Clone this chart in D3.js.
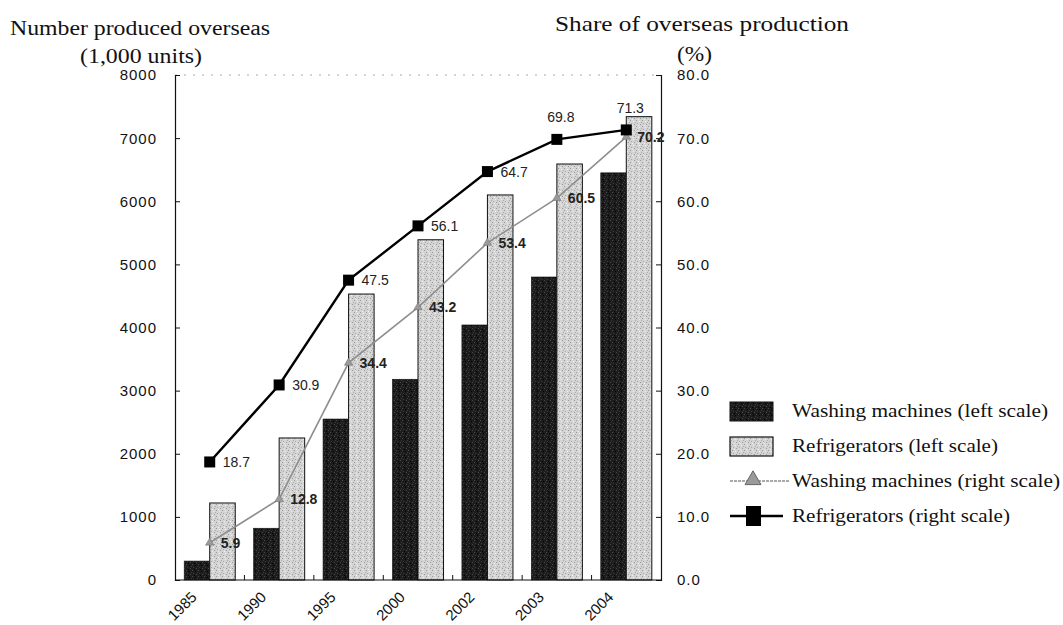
<!DOCTYPE html>
<html>
<head>
<meta charset="utf-8">
<script src="https://cdn.jsdelivr.net/npm/d3@7"></script>
<style>
  html, body { margin: 0; padding: 0; background: #fff; }
  svg { display: block; }
</style>
</head>
<body>
<svg id="chart" width="1063" height="625"></svg>
<script>
// ---------- data ----------
const years = ["1985", "1990", "1995", "2000", "2002", "2003", "2004"];
const washingUnits = [300, 820, 2550, 3180, 4040, 4800, 6450];      // 1,000 units (left scale)
const fridgeUnits = [1220, 2250, 4530, 5390, 6100, 6590, 7340];    // 1,000 units (left scale)
const washingShare = [5.9, 12.8, 34.4, 43.2, 53.4, 60.5, 70.2];      // % (right scale)
const fridgeShare = [18.7, 30.9, 47.5, 56.1, 64.7, 69.8, 71.3];      // % (right scale)
const leftTicks = [0, 1000, 2000, 3000, 4000, 5000, 6000, 7000, 8000];
const rightTicks = [0, 10, 20, 30, 40, 50, 60, 70, 80];
const legendLabels = [
  "Washing machines (left scale)",
  "Refrigerators (left scale)",
  "Washing machines (right scale)",
  "Refrigerators (right scale)"
];

// ---------- layout ----------
const svg = d3.select("#chart");
const L = 175, R = 661, T = 75, B = 580;
const sans = "'Liberation Sans', Arial, sans-serif";
const serif = "'Liberation Serif', 'Times New Roman', serif";

const x = d3.scaleBand().domain(years).range([L, R]).padding(0);
const xInner = d3.scaleBand().domain(["w", "r"]).range([0, x.bandwidth()]).paddingInner(0).paddingOuter(0.36);
const yL = d3.scaleLinear().domain([0, 8000]).range([B, T]);
const yR = d3.scaleLinear().domain([0, 80]).range([B, T]);

// ---------- patterns ----------
const defs = svg.append("defs");
function stipple(id, base, dots) {
  const p = defs.append("pattern").attr("id", id).attr("patternUnits", "userSpaceOnUse")
    .attr("width", 6).attr("height", 6);
  p.append("rect").attr("width", 6).attr("height", 6).attr("fill", base);
  const pts = [[0,0],[3,1],[1,3],[4,4],[2,5],[5,2]];
  pts.forEach(([a, b], i) => {
    p.append("rect").attr("x", a).attr("y", b).attr("width", 1).attr("height", 1)
      .attr("fill", dots[i % dots.length]);
  });
}
stipple("darkPat", "#1c1c1c", ["#4a4a4a", "#000", "#3a3a3a"]);
stipple("lightPat", "#d4d4d4", ["#9a9a9a", "#f0f0f0", "#aaaaaa"]);

// ---------- frame ----------
svg.append("line").attr("x1", L).attr("x2", R).attr("y1", T).attr("y2", T)
  .attr("stroke", "#aaa").attr("stroke-width", 1).attr("stroke-dasharray", "2,7");

// ---------- bars ----------
const g = svg.append("g");
years.forEach((yr, i) => {
  g.append("rect")
    .attr("x", x(yr) + xInner("w")).attr("width", xInner.bandwidth())
    .attr("y", yL(washingUnits[i])).attr("height", B - yL(washingUnits[i]))
    .attr("fill", "url(#darkPat)").attr("stroke", "#111").attr("stroke-width", 0.6);
  g.append("rect")
    .attr("x", x(yr) + xInner("r")).attr("width", xInner.bandwidth())
    .attr("y", yL(fridgeUnits[i])).attr("height", B - yL(fridgeUnits[i]))
    .attr("fill", "url(#lightPat)").attr("stroke", "#111").attr("stroke-width", 1);
});

// ---------- axes ----------
const axL = svg.append("g").attr("transform", `translate(${L},0)`)
  .call(d3.axisRight(yL).tickValues(leftTicks).tickSize(5).tickFormat(""));
const axR = svg.append("g").attr("transform", `translate(${R},0)`)
  .call(d3.axisLeft(yR).tickValues(rightTicks).tickSize(5).tickFormat(""));
const axB = svg.append("g").attr("transform", `translate(0,${B})`)
  .call(d3.axisTop(x).tickValues([]).tickSize(0).tickSizeOuter(0));
[axL, axR, axB].forEach(a => {
  a.select(".domain").attr("stroke", "#111").attr("stroke-width", 1.2);
  a.selectAll(".tick line").attr("stroke", "#111");
});
axB.select(".domain").attr("d", `M${L},0H${R}`);
// category boundary ticks on x-axis
svg.append("g").selectAll("line").data(years.slice(1)).join("line")
  .attr("x1", d => x(d)).attr("x2", d => x(d)).attr("y1", B).attr("y2", B - 5)
  .attr("stroke", "#111");

// left tick labels
svg.append("g").selectAll("text").data(leftTicks).join("text")
  .attr("x", 157).attr("y", d => yL(d)).attr("dy", "0.36em")
  .attr("text-anchor", "end").attr("font-family", sans).attr("font-size", 15)
  .attr("letter-spacing", 1).attr("fill", "#111")
  .text(d => d);
// right tick labels
svg.append("g").selectAll("text").data(rightTicks).join("text")
  .attr("x", 677).attr("y", d => yR(d)).attr("dy", "0.36em")
  .attr("text-anchor", "start").attr("font-family", sans).attr("font-size", 15)
  .attr("letter-spacing", 1).attr("fill", "#111")
  .text(d => d3.format(".1f")(d));
// x labels
svg.append("g").selectAll("text").data(years).join("text")
  .attr("transform", d => `translate(${x(d) + x.bandwidth() / 2 - 12},${598}) rotate(-45)`)
  .attr("text-anchor", "end").attr("font-family", sans).attr("font-size", 15)
  .attr("fill", "#111").text(d => d);

// ---------- lines ----------
const cx = d => x(d) + x.bandwidth() / 2;
const lineW = d3.line().x((d, i) => cx(years[i])).y(d => yR(d));
svg.append("path").datum(washingShare).attr("d", lineW)
  .attr("fill", "none").attr("stroke", "#8e8e8e").attr("stroke-width", 1.6);
svg.append("path").datum(fridgeShare).attr("d", lineW)
  .attr("fill", "none").attr("stroke", "#000").attr("stroke-width", 2.4);

const tri = d3.symbol().type(d3.symbolTriangle).size(30);
svg.append("g").selectAll("path").data(washingShare).join("path")
  .attr("d", tri).attr("transform", (d, i) => `translate(${cx(years[i])},${yR(d)})`)
  .attr("fill", "#9a9a9a").attr("stroke", "#777").attr("stroke-width", 0.6);
svg.append("g").selectAll("rect").data(fridgeShare).join("rect")
  .attr("x", (d, i) => cx(years[i]) - 5.5).attr("y", d => yR(d) - 5.5)
  .attr("width", 11).attr("height", 11).attr("fill", "#000");

// value labels
svg.append("g").selectAll("text").data(washingShare).join("text")
  .attr("x", (d, i) => cx(years[i]) + 11).attr("y", d => yR(d)).attr("dy", "0.36em")
  .attr("font-family", sans).attr("font-size", 14).attr("font-weight", "bold")
  .attr("fill", "#222").text(d => d3.format(".1f")(d));
svg.append("g").selectAll("text").data(fridgeShare).join("text")
  .attr("x", (d, i) => i < 5 ? cx(years[i]) + 13 : cx(years[i]) + 4)
  .attr("y", (d, i) => i < 5 ? yR(d) : yR(d) - 22).attr("dy", "0.36em")
  .attr("text-anchor", (d, i) => i < 5 ? "start" : "middle")
  .attr("font-family", sans).attr("font-size", 14).attr("fill", "#222")
  .text(d => d3.format(".1f")(d));

// ---------- titles ----------
svg.append("text").attr("x", 10).attr("y", 35).attr("font-family", serif).attr("font-size", 20)
  .attr("textLength", 260).attr("lengthAdjust", "spacingAndGlyphs").attr("fill", "#111")
  .text("Number produced overseas");
svg.append("text").attr("x", 80).attr("y", 63).attr("font-family", serif).attr("font-size", 20)
  .attr("textLength", 122).attr("lengthAdjust", "spacingAndGlyphs").attr("fill", "#111")
  .text("(1,000 units)");
svg.append("text").attr("x", 555).attr("y", 31).attr("font-family", serif).attr("font-size", 21)
  .attr("textLength", 294).attr("lengthAdjust", "spacingAndGlyphs").attr("fill", "#111")
  .text("Share of overseas production");
svg.append("text").attr("x", 677).attr("y", 61).attr("font-family", serif).attr("font-size", 21)
  .attr("textLength", 35).attr("lengthAdjust", "spacingAndGlyphs").attr("fill", "#111")
  .text("(%)");

// ---------- legend ----------
const legY = [411, 446, 481, 516];
const legW = [256, 206, 268, 218];
const lg = svg.append("g");
lg.append("rect").attr("x", 730).attr("y", legY[0] - 9).attr("width", 43).attr("height", 19)
  .attr("fill", "url(#darkPat)").attr("stroke", "#111");
lg.append("rect").attr("x", 730).attr("y", legY[1] - 9).attr("width", 43).attr("height", 19)
  .attr("fill", "url(#lightPat)").attr("stroke", "#111").attr("stroke-width", 1.2);
lg.append("line").attr("x1", 730).attr("x2", 789).attr("y1", legY[2]).attr("y2", legY[2])
  .attr("stroke", "#8e8e8e").attr("stroke-width", 1.4).attr("stroke-dasharray", "3,1");
lg.append("path").attr("d", d3.symbol().type(d3.symbolTriangle).size(110))
  .attr("transform", `translate(753,${legY[2] - 1})`).attr("fill", "#9a9a9a").attr("stroke", "#666");
lg.append("line").attr("x1", 730).attr("x2", 783).attr("y1", legY[3]).attr("y2", legY[3])
  .attr("stroke", "#000").attr("stroke-width", 2.4);
lg.append("rect").attr("x", 746).attr("y", legY[3] - 10).attr("width", 15).attr("height", 20).attr("fill", "#000");
lg.selectAll("text").data(legendLabels).join("text")
  .attr("x", 792).attr("y", (d, i) => legY[i]).attr("dy", "0.33em")
  .attr("font-family", serif).attr("font-size", 18)
  .attr("textLength", (d, i) => legW[i]).attr("lengthAdjust", "spacingAndGlyphs")
  .attr("fill", "#111").text(d => d);
</script>
</body>
</html>
